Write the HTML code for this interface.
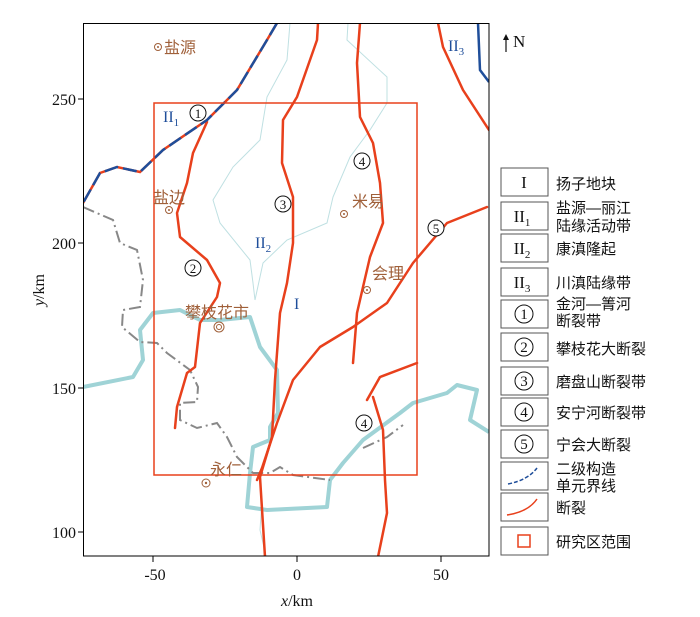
<!DOCTYPE html>
<html><head><meta charset="utf-8"><style>
body{margin:0;background:#fff;}
svg{display:block;font-family:"Liberation Serif","Noto Serif CJK SC",serif;}
.pl{fill:#a0603a;font-size:16px;font-family:"Liberation Serif","Noto Sans CJK SC",sans-serif;}
.bl{fill:#1f4e9a;font-size:16px;}
.cn{font-size:15px;font-family:"Liberation Sans","Noto Sans CJK SC",sans-serif;fill:#111;}
.f{fill:none;stroke:#e8401c;stroke-width:2.5;stroke-linejoin:round;stroke-linecap:round;}
.cc circle{fill:#fff;stroke:#111;stroke-width:1;}
.cc text{font-size:13px;fill:#111;text-anchor:middle;}
</style></head><body>
<svg width="700" height="617" viewBox="0 0 700 617">
<defs><clipPath id="c"><rect x="84" y="23" width="405" height="533"/></clipPath></defs>
<g clip-path="url(#c)">
<path d="M290,23 L287,60 267,97 260,140 233,167 213,200 220,223 250,260 253,283 255,300" fill="none" stroke="#bfe0e2" stroke-width="1"/>
<path d="M348,23 L347,40 387,77 387,103 370,130 350,157 333,197 327,223 287,240 263,263 255,300" fill="none" stroke="#bfe0e2" stroke-width="1"/>
<path d="M262,500 L260,530 266,556" fill="none" stroke="#bfe0e2" stroke-width="1"/>
<path d="M83,387 L133,377 143,360 140,330 153,313 180,310 200,320 220,320 250,317 260,347 277,370 278,413 270,427 270,440 253,447 250,473 247,507 267,510 327,507 330,480 343,463 363,440 400,413 413,403 447,393 457,385 477,390 470,420 489,432" fill="none" stroke="#9fd3d6" stroke-width="4" stroke-linejoin="round"/>
<path d="M83,207 L113,220 120,243 137,250 143,280 140,307 123,310 122,327 140,342 157,343 167,353 190,370 198,387 197,402 180,403 180,420 197,428 217,423 227,437 237,457 253,473 270,473 280,467 293,475 330,480" fill="none" stroke="#888" stroke-width="2" stroke-dasharray="12,4,2,4"/>
<path d="M363,448 L387,437 403,425" fill="none" stroke="#888" stroke-width="2" stroke-dasharray="12,4,2,4"/>
<path class="f" d="M207,122 L193,153 187,183 177,213 180,237 207,260 220,283 217,297 200,323 195,367 187,373 177,407 175,428"/>
<path class="f" d="M318,23 L317,40 297,97 283,120 282,163 293,197 293,243 287,283 280,313 275,380 272,437 260,477 265,557"/>
<path class="f" d="M487,207 L447,223 413,263 387,303 353,327 320,347 293,380 277,423 262,468 257,480"/>
<path class="f" d="M360,23 L357,63 360,117 373,143 380,183 383,223 370,257 363,287 357,313 353,363"/>
<path class="f" d="M417,363 L380,377 367,400 M373,397 L383,430 385,480 387,513 378,557"/>
<path class="f" d="M438,23 L443,47 463,90 489,130"/>
<path d="M277,23 L267,40 237,90 207,120 163,150 140,172 117,167 100,173 83,203" fill="none" stroke="#e8401c" stroke-width="2.5"/>
<path d="M277,23 L267,40 237,90 207,120 163,150 140,172 117,167 100,173 83,203" fill="none" stroke="#1f4e9a" stroke-width="2.5" stroke-dasharray="14,5"/>
<path d="M478,23 L480,70 489,82" fill="none" stroke="#1f4e9a" stroke-width="2.5"/>
</g>
<rect x="154" y="103" width="263" height="372" fill="none" stroke="#e8401c" stroke-width="1.5"/>
<rect x="83.5" y="23.5" width="405.5" height="532.5" fill="none" stroke="#000" stroke-width="1"/>
<g stroke="#000"><line x1="78" y1="99" x2="84" y2="99"/><line x1="78" y1="243" x2="84" y2="243"/><line x1="78" y1="388" x2="84" y2="388"/><line x1="78" y1="532" x2="84" y2="532"/>
<line x1="153" y1="556" x2="153" y2="562"/><line x1="297" y1="556" x2="297" y2="562"/><line x1="441" y1="556" x2="441" y2="562"/></g>
<g font-size="16" fill="#111" text-anchor="end"><text x="76" y="105">250</text><text x="76" y="249">200</text><text x="76" y="394">150</text><text x="76" y="538">100</text></g>
<g font-size="16" fill="#111" text-anchor="middle"><text x="155" y="580">-50</text><text x="297" y="580">0</text><text x="441" y="580">50</text>
<text x="297" y="606"><tspan font-style="italic">x</tspan>/km</text></g>
<text transform="translate(44,290) rotate(-90)" font-size="16" text-anchor="middle" fill="#111"><tspan font-style="italic">y</tspan>/km</text>
<line x1="506" y1="52" x2="506" y2="36" stroke="#111" stroke-width="1.2"/><path d="M503,40 L506,34 509,40 Z" fill="#111"/>
<text x="513" y="47" font-size="17" fill="#111">N</text>
<g fill="none" stroke="#a0603a" stroke-width="1"><circle cx="158" cy="47" r="3.5"/><circle cx="169" cy="210" r="3.5"/><circle cx="344" cy="214" r="3.5"/><circle cx="367" cy="290" r="3.5"/><circle cx="219" cy="327" r="5"/><circle cx="219" cy="327" r="2.5"/><circle cx="206" cy="483" r="4"/></g>
<g fill="#a0603a"><circle cx="158" cy="47" r="1"/><circle cx="169" cy="210" r="1"/><circle cx="344" cy="214" r="1"/><circle cx="367" cy="290" r="1"/><circle cx="206" cy="483" r="1.2"/></g>
<text class="pl" x="164" y="53">盐源</text>
<text class="pl" x="153" y="203">盐边</text>
<text class="pl" x="352" y="207">米易</text>
<text class="pl" x="372" y="279">会理</text>
<text class="pl" x="185" y="318" font-size="17">攀枝花市</text>
<text class="pl" x="210" y="475">永仁</text>
<text class="bl" x="163" y="122">II<tspan font-size="11" dy="4">1</tspan></text>
<text class="bl" x="255" y="248">II<tspan font-size="11" dy="4">2</tspan></text>
<text class="bl" x="448" y="51">II<tspan font-size="11" dy="4">3</tspan></text>
<text class="bl" x="294" y="309">I</text>
<g class="cc">
<circle cx="198" cy="113" r="8"/><text x="198" y="118">1</text>
<circle cx="283" cy="204" r="8"/><text x="283" y="209">3</text>
<circle cx="362" cy="161" r="8"/><text x="362" y="166">4</text>
<circle cx="436" cy="228" r="8"/><text x="436" y="233">5</text>
<circle cx="193" cy="268" r="8"/><text x="193" y="273">2</text>
<circle cx="364" cy="423" r="8"/><text x="364" y="428">4</text>
</g>
<g fill="#fff" stroke="#555" stroke-width="1">
<rect x="501" y="168" width="47" height="28"/><rect x="501" y="202" width="47" height="28"/><rect x="501" y="234" width="47" height="28"/><rect x="501" y="268" width="47" height="28"/><rect x="501" y="300" width="47" height="28"/><rect x="501" y="333" width="47" height="28"/><rect x="501" y="367" width="47" height="28"/><rect x="501" y="398" width="47" height="28"/><rect x="501" y="430" width="47" height="28"/><rect x="501" y="462" width="47" height="28"/><rect x="501" y="493" width="47" height="28"/><rect x="501" y="527" width="47" height="28"/></g>
<g font-size="17" fill="#111" text-anchor="middle">
<text x="524" y="188">I</text><text x="522" y="222">II<tspan font-size="11" dy="4">1</tspan></text><text x="522" y="254">II<tspan font-size="11" dy="4">2</tspan></text><text x="522" y="288">II<tspan font-size="11" dy="4">3</tspan></text></g>
<g class="cc">
<circle cx="524" cy="314" r="9"/><text x="524" y="319" style="font-size:15px">1</text>
<circle cx="524" cy="347" r="9"/><text x="524" y="352" style="font-size:15px">2</text>
<circle cx="524" cy="381" r="9"/><text x="524" y="386" style="font-size:15px">3</text>
<circle cx="524" cy="412" r="9"/><text x="524" y="417" style="font-size:15px">4</text>
<circle cx="524" cy="444" r="9"/><text x="524" y="449" style="font-size:15px">5</text>
</g>
<path d="M508,484 Q528,480 537,468" fill="none" stroke="#1f4e9a" stroke-width="1.5" stroke-dasharray="4,2"/>
<path d="M507,515 Q528,512 537,499" fill="none" stroke="#e8401c" stroke-width="1.5"/>
<rect x="518" y="535" width="12" height="12" fill="none" stroke="#e8401c" stroke-width="1.5"/>
<g class="cn">
<text x="556" y="189">扬子地块</text>
<text x="556" y="213">盐源—丽江</text><text x="556" y="231">陆缘活动带</text>
<text x="556" y="254">康滇隆起</text>
<text x="556" y="288">川滇陆缘带</text>
<text x="556" y="309">金河—箐河</text><text x="556" y="326">断裂带</text>
<text x="556" y="354">攀枝花大断裂</text>
<text x="556" y="387">磨盘山断裂带</text>
<text x="556" y="418">安宁河断裂带</text>
<text x="556" y="450">宁会大断裂</text>
<text x="556" y="474">二级构造</text><text x="556" y="491">单元界线</text>
<text x="556" y="513">断裂</text>
<text x="556" y="547">研究区范围</text>
</g>
</svg>
</body></html>
